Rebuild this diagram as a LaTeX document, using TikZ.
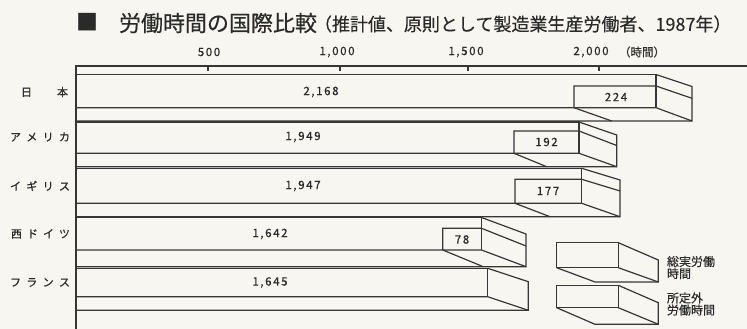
\documentclass[tikz,border=0pt]{standalone}
\usepackage{fontspec}
\setmainfont{Noto Sans CJK JP}
\newfontfamily\jpfont{Noto Sans CJK JP}
\definecolor{bgcol}{HTML}{F7F6F1}
\definecolor{linecol}{HTML}{363636}
\definecolor{textcol}{HTML}{2A2A2A}
\newcommand\drawbar[6]{% yt, yb, ybb, xe, dx, dy
  \draw[barline] (76,#1) -- (#4,#1) -- (#4,#2);
  \draw[barline] (76,#2) -- (#4,#2) -- ({#4+#5},#3);
  \draw[barline] (76,#3) -- ({#4+#5},#3) -- ({#4+#5},{#1+#6}) -- (#4,#1);
}
\newcommand\drawot[8]{% xo, yo, yb, ybb, xe, dx, dy, dxb
  \draw[barline] (#1,#3) -- (#1,#2) -- (#5,#2) -- ({#5+#6},{#2+#7});
  \draw[barline] (#1,#3) -- ({#1+#8},#4);
}
\newcommand\drawlegbox[5]{% yt, yb, ybb, dy, unused
  \draw[barline] (556.7,#1) rectangle (618.3,#2);
  \draw[barline] (618.3,#1) -- (658.3,{#1+#4}) -- (658.3,#3) -- (595,#3) -- (556.7,#2);
  \draw[barline] (618.3,#2) -- (658.3,#3);
}
\begin{document}
\begin{tikzpicture}[x=1pt,y=-1pt,
  barline/.style={draw=linecol,line width=1.2pt,line join=miter},
  txt/.style={text=textcol,inner sep=0pt,outer sep=0pt},
  numlbl/.style={txt,font=\fontsize{11.5}{12}\selectfont\addfontfeature{LetterSpace=14,FakeBold=0.5}},
  ticklbl/.style={txt,font=\fontsize{11.5}{12}\selectfont\addfontfeature{LetterSpace=14,FakeBold=0.5}},
  rowlbl/.style={txt,font=\fontsize{11}{12}\selectfont\addfontfeature{FakeBold=0.6},anchor=east},
  leglbl/.style={txt,font=\fontsize{12}{12}\selectfont\addfontfeature{FakeBold=0.4},anchor=west,align=left}]
\useasboundingbox (0,0) rectangle (747,329);
\fill[bgcol] (0,0) rectangle (747,329);
% title
\node[txt,font=\fontsize{22}{24}\selectfont] (sq) at (87.5,22.5) {■};
\node[txt,font=\fontsize{22}{24}\selectfont\addfontfeature{FakeBold=0.4},anchor=west] (title) at (119,23) {労働時間の国際比較};
\node[txt,font=\fontsize{18}{20}\selectfont\addfontfeature{FakeBold=0.3},anchor=west] (subtitle) at (314,24) {（推計値、原則として製造業生産労働者、1987年）};
% axes
\draw[barline] (76,329) -- (76,66) -- (747,66);
\foreach \x in {208,340,468,599} \draw[barline] (\x,66) -- (\x,71);
\node[ticklbl] (t500) at (209,52) {500};
\node[ticklbl] (t1000) at (337,52) {1,000};
\node[ticklbl] (t1500) at (466,52) {1,500};
\node[ticklbl] (t2000) at (591,52) {2,000};
\node[txt,font=\fontsize{11.5}{12}\selectfont\addfontfeature{FakeBold=0.5}] (unit) at (642,52) {（時間）};
% bars
\drawbar{74.5}{107.7}{121}{656}{36}{12}
\drawot{574}{86}{107.7}{121}{656}{36}{12.3}{37.7}
\drawbar{122}{153.3}{166.7}{579}{37.7}{13}
\drawot{514}{131}{153.3}{166.7}{579}{37.7}{14.5}{32.7}
\drawbar{168.3}{203.3}{216.7}{581.7}{38.3}{11.7}
\drawot{515}{179.3}{203.3}{216.7}{581.7}{38.3}{11.7}{35}
\drawbar{217.5}{250}{266.7}{481.5}{44.5}{16.5}
\drawot{442.7}{228.3}{250}{266.7}{481.5}{44.5}{17.7}{40.6}
\drawbar{268.3}{296.7}{310.3}{487.7}{40.6}{13.4}
% legend boxes
\drawlegbox{242.7}{267.7}{282}{17.3}{}
\drawlegbox{285.3}{307.7}{324.3}{17.4}{}
% row labels
\node[rowlbl] (jp) at (68,92) {\makebox[47pt][s]{日\hfill 本}};
\node[rowlbl] (us) at (70,137) {\makebox[60pt][s]{ア\hfill メ\hfill リ\hfill カ}};
\node[rowlbl] (uk) at (70,186) {\makebox[60pt][s]{イ\hfill ギ\hfill リ\hfill ス}};
\node[rowlbl] (de) at (70,234) {\makebox[59pt][s]{西\hfill ド\hfill イ\hfill ツ}};
\node[rowlbl] (fr) at (70,282.5) {\makebox[60pt][s]{フ\hfill ラ\hfill ン\hfill ス}};
% values
\node[numlbl] (vjp) at (321,92) {2,168};
\node[numlbl] (vus) at (303,137) {1,949};
\node[numlbl] (vuk) at (303,186) {1,947};
\node[numlbl] (vde) at (270,234) {1,642};
\node[numlbl] (vfr) at (270,282.5) {1,645};
\node[numlbl] (ojp) at (616,97) {224};
\node[numlbl] (ous) at (546.5,142) {192};
\node[numlbl] (ouk) at (548,191) {177};
\node[numlbl] (ode) at (462,239.5) {78};
% legend text
\node[leglbl] (leg1) at (667,267.5) {総実労働\\時間};
\node[leglbl] (leg2) at (667,304) {所定外\\労働時間};
\end{tikzpicture}
\end{document}
